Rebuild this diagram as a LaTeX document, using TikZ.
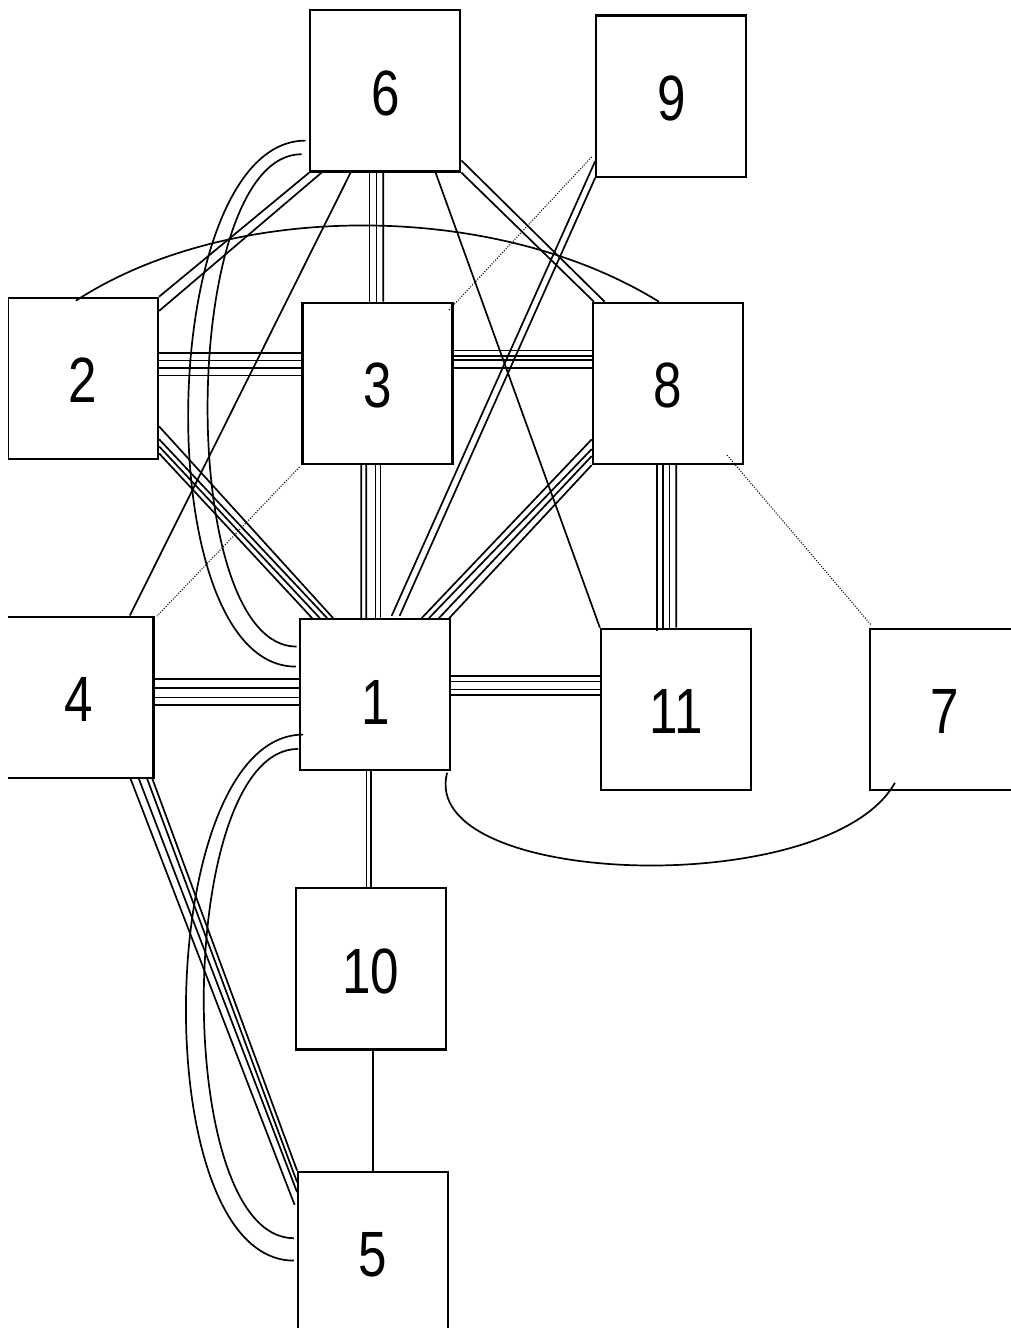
\documentclass[tikz,border=0pt]{standalone}
\usepackage{fontspec}
\newfontfamily\digitfont{Liberation Sans}[FakeStretch=0.8]
\usetikzlibrary{calc}
\begin{document}
\begin{tikzpicture}[x=1pt,y=-1pt,
  vbox/.style={draw, line width=2.2pt, rectangle, inner sep=0pt,
    minimum width=150pt, text height=104.7pt, text depth=56.5pt,
    anchor=base, font={\digitfont\fontsize{64}{64}\selectfont}},
  wire/.style={line width=1.7pt},
  dots/.style={line width=1.1pt, dash pattern=on 1pt off 1.6pt}]
\fill[white] (0,0) rectangle (1011,1328);
\useasboundingbox (0,0) rectangle (1011,1328);
\begin{scope}
\clip (8,0) rectangle (1011,1328);

% boxes
\node[vbox] (b6)  at (385.3,115)   {6};
\node[vbox] (b9)  at (671.3,120.2) {9};
\node[vbox] (b2)  at (83,402.5)    {2};
\node[vbox] (b3)  at (377.4,407.5) {3};
\node[vbox] (b8)  at (667.8,407.5) {8};
\node[vbox] (b4)  at (78.5,721.3)  {4};
\node[vbox, text depth=46pt] (b1) at (375.3,724) {1};
\node[vbox] (b11) at (676,733.5)   {11};
\node[vbox] (b7)  at (945,733.5)   {7};
\node[vbox] (b10) at (370.8,993)   {10};
\node[vbox] (b5)  at (373.2,1276.4) {5};

% 6 -- 2
\draw[wire] (b6.south west) -- (b2.north east);
\draw[wire] ($(b6.south west)+(12.4,0)$) -- ($(b2.north east)+(0,14.2)$);
% 6 -- 3
\foreach \a/\b in {60.4/68.3, 67.4/75.3, 74/81.9}
  \draw[wire] ($(b6.south west)+(\a,0)$) -- ($(b3.north west)+(\b,0)$);
% 6 -- 4
\draw[wire] ($(b6.south west)+(41.4,0)$) -- ($(b4.north west)+(127.5,0)$);
% 6 -- 1
\draw[wire] ($(b6.north west)+(-3.6,131.4)$) .. controls +(-150,0) and +(-150,0) .. ($(b1.north west)+(-3.3,48.4)$);
\draw[wire] ($(b6.north west)+(-7.6,145)$) .. controls +(-122,0) and +(-122,0) .. ($(b1.north west)+(-2.6,28.4)$);
% 6 -- 8
\draw[wire] (b6.south east) -- ($(b8.north west)+(2.2,0)$);
\draw[wire] ($(b6.south east)+(0,-12.2)$) -- ($(b8.north west)+(12.9,0)$);
% 6 -- 11
\draw[wire] ($(b6.south west)+(126.4,0)$) -- (b11.north west);

% 2 -- 8
\draw[wire] ($(b2.north west)+(69,4)$) .. controls +(155,-101) and +(-163,-101) .. ($(b8.north west)+(67.2,0)$);
% 2 -- 3
\foreach \a/\b in {56.2/51.2, 63.9/58.9, 71.5/66.5, 78.9/73.9}
  \draw[wire] ($(b2.north east)+(0,\a)$) -- ($(b3.north west)+(0,\b)$);
% 2 -- 1
\foreach \a/\b in {129.7/34, 142.5/28, 149.7/20.7, 156.7/13}
  \draw[wire] ($(b2.north east)+(0,\a)$) -- ($(b1.north west)+(\b,0)$);

% 3 -- 8
\foreach \a in {48.9, 54.2, 58.5, 66.5}
  \draw[wire] ($(b3.north east)+(0,\a)$) -- ($(b8.north west)+(0,\a)$);
% 3 -- 1
\foreach \a/\b in {59.9/62, 64.9/67, 74.3/76.4, 79.3/81.4}
  \draw[wire] ($(b3.south west)+(\a,0)$) -- ($(b1.north west)+(\b,0)$);
% 3 -- 9, 3 -- 4
\draw[dots] ($(b3.north east)+(-4.4,8.2)$) -- ($(b9.north west)+(-2.9,141.8)$);
\draw[dots] ($(b3.south west)+(-1.9,2)$) -- ($(b4.north east)+(2.5,0.4)$);

% 9 -- 1
\draw[wire] ($(b9.south west)+(0,-16.7)$) -- ($(b1.north west)+(92.4,-2.3)$);
\draw[wire] (b9.south west) -- ($(b1.north west)+(100.4,-2.3)$);

% 8 -- 1
\foreach \a/\b in {-25.7/122.4, -16/129.7, -9/139.7, 0/150}
  \draw[wire] ($(b8.south west)+(0,\a)$) -- ($(b1.north west)+(\b,0)$);
% 8 -- 11
\foreach \a/\b/\c in {65.4/57.2/3, 71.2/63/0, 77.7/69.5/0, 84.6/76.4/0}
  \draw[wire] ($(b8.south west)+(\a,0)$) -- ($(b11.north west)+(\b,\c)$);
% 8 -- 7
\draw[dots] ($(b8.south east)+(-16.8,-10)$) -- ($(b7.north west)+(2.8,-2.1)$);

% 4 -- 1
\foreach \a/\b in {63.4/60.7, 72.7/70, 81.9/79.2, 89.4/86.7}
  \draw[wire] ($(b4.north east)+(0,\a)$) -- ($(b1.north west)+(0,\b)$);
% 4 -- 5
\foreach \a/\b/\c in {128.2/-2.5/34.3, 136.5/0/21.6, 144.8/0/11.6, 150/0/0}
  \draw[wire] ($(b4.south west)+(\a,0)$) -- ($(b5.north west)+(\b,\c)$);

% 1 -- 11
\foreach \a/\b in {58/48.5, 63.4/53.9, 71.2/61.7, 76.5/67}
  \draw[wire] ($(b1.north east)+(0,\a)$) -- ($(b11.north west)+(0,\b)$);
% 1 -- 10
\foreach \a/\b in {67.4/71.9, 72/76.5}
  \draw[wire] ($(b1.south west)+(\a,0)$) -- ($(b10.north west)+(\b,0)$);
% 10 -- 5
\draw[wire] ($(b10.south west)+(78.2,0)$) -- ($(b5.north west)+(75.8,0)$);
% 1 -- 5
\draw[wire] ($(b1.north west)+(4,116.4)$) .. controls +(-150,0) and +(-150,0) .. ($(b5.north west)+(-3.2,90)$);
\draw[wire] ($(b1.north west)+(-1,130.7)$) .. controls +(-123,0) and +(-123,0) .. ($(b5.north west)+(-3.2,67.6)$);
% 1 -- 7
\draw[wire] ($(b1.south east)+(-4.3,1.7)$) .. controls +(-29.8,115) and +(-66,118.3) .. ($(b7.south west)+(26,-8.3)$);
\end{scope}
\end{tikzpicture}
\end{document}
